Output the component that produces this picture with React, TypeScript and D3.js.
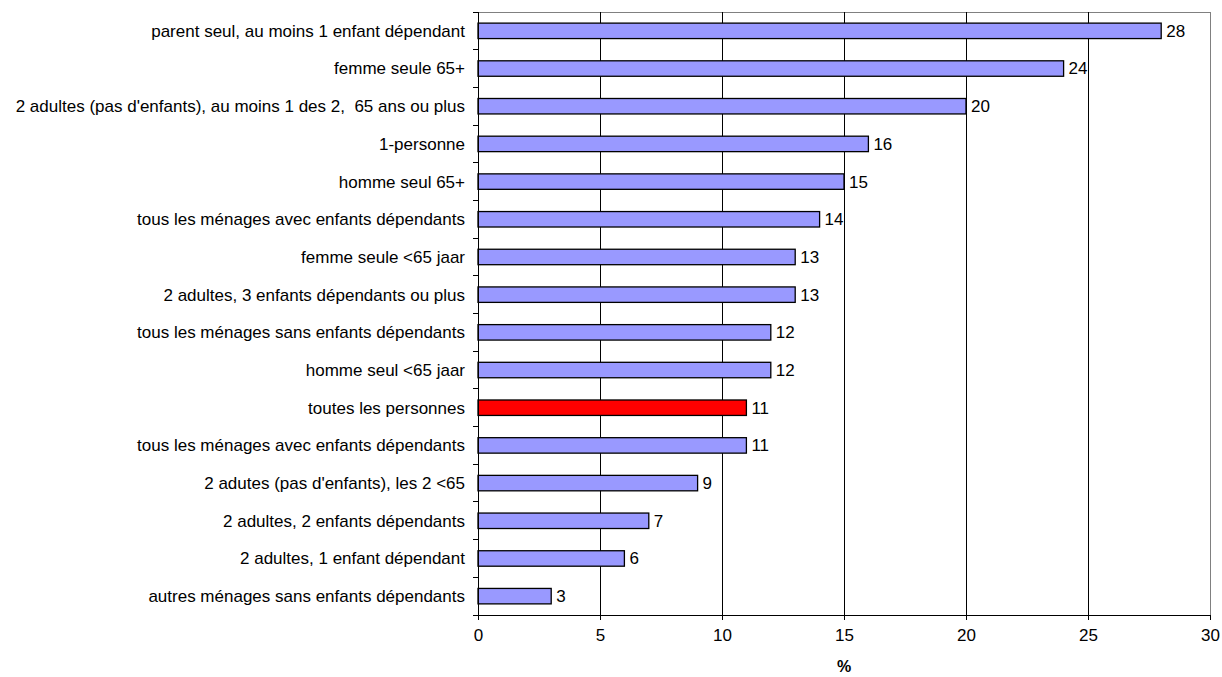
import { axisBottom, scaleBand, scaleLinear, select } from "d3";
import React, { useEffect, useRef } from "react";

const categories = [
  "parent seul, au moins 1 enfant dépendant",
  "femme seule 65+",
  "2 adultes (pas d'enfants), au moins 1 des 2,  65 ans ou plus",
  "1-personne",
  "homme seul 65+",
  "tous les ménages avec enfants dépendants",
  "femme seule <65 jaar",
  "2 adultes, 3 enfants dépendants ou plus",
  "tous les ménages sans enfants dépendants",
  "homme seul <65 jaar",
  "toutes les personnes",
  "tous les ménages avec enfants dépendants ",
  "2 adutes (pas d'enfants), les 2 <65",
  "2 adultes, 2 enfants dépendants",
  "2 adultes, 1 enfant dépendant",
  "autres ménages sans enfants dépendants",
];
const values = [28, 24, 20, 16, 15, 14, 13, 13, 12, 12, 11, 11, 9, 7, 6, 3];
const highlight = "toutes les personnes";
const xTicks = [0, 5, 10, 15, 20, 25, 30];

const width = 1222;
const height = 677;
const margin = { top: 12, right: 12, bottom: 62, left: 478 };
const innerWidth = width - margin.left - margin.right;
const innerHeight = height - margin.top - margin.bottom;
const font = "Arial, 'Liberation Sans', sans-serif";
const fontSize = 17;

const xScale = scaleLinear().domain([0, 30]).range([0, innerWidth]);
const yScale = scaleBand<string>()
  .domain(categories)
  .range([0, innerHeight])
  .paddingInner(0.59)
  .paddingOuter(0.295);

export default function App() {
  const axisRef = useRef<SVGGElement>(null);

  useEffect(() => {
    const g = select(axisRef.current!);
    g.call(
      axisBottom(xScale)
        .tickValues(xTicks)
        .tickSize(5)
        .tickSizeOuter(0)
        .tickPadding(9)
    );
    g.attr("shape-rendering", "crispEdges");
    g.select(".domain").attr("stroke", "black");
    g.selectAll("text")
      .attr("font-family", font)
      .attr("font-size", fontSize)
      .attr("fill", "black");
  }, []);

  const step = innerHeight / categories.length;

  return (
    <svg
      width={width}
      height={height}
      viewBox={`0 0 ${width} ${height}`}
      style={{ position: "absolute", left: 0, top: 0, background: "white" }}
    >
      <g transform={`translate(${margin.left}, ${margin.top})`}>
        {/* plot frame */}
        <g shapeRendering="crispEdges">
          <line x1={0} x2={innerWidth} y1={0} y2={0} stroke="#808080" />
          <line x1={innerWidth} x2={innerWidth} y1={0} y2={innerHeight} stroke="#808080" />
          {xTicks.slice(1, -1).map((t) => (
            <line key={t} x1={xScale(t)} x2={xScale(t)} y1={0} y2={innerHeight} stroke="black" />
          ))}
        </g>
        {values.map((v, i) => {
          const c = categories[i];
          const y = yScale(c)!;
          return (
            <g key={i}>
              <rect
                x={0}
                y={y}
                width={xScale(v)}
                height={yScale.bandwidth()}
                fill={c === highlight ? "#FF0000" : "#9999FF"}
                stroke="black"
                strokeWidth={1.3}
              />
              <text
                x={xScale(v) + 5}
                y={y + yScale.bandwidth() / 2}
                dy="0.35em"
                fontFamily={font}
                fontSize={fontSize}
              >
                {v}
              </text>
              <text
                x={-13}
                y={y + yScale.bandwidth() / 2}
                dy="0.35em"
                textAnchor="end"
                fontFamily={font}
                fontSize={fontSize}
                style={{ whiteSpace: "pre" }}
              >
                {c.trim()}
              </text>
            </g>
          );
        })}
        {/* category axis */}
        <g shapeRendering="crispEdges">
          <line x1={0} x2={0} y1={0} y2={innerHeight} stroke="black" />
          {categories.map((_, i) => (
            <line key={i} x1={-5} x2={0} y1={i * step} y2={i * step} stroke="black" />
          ))}
          <line x1={-5} x2={0} y1={innerHeight} y2={innerHeight} stroke="black" />
        </g>
        <g ref={axisRef} transform={`translate(0, ${innerHeight})`} />
        <text
          x={innerWidth / 2}
          y={innerHeight + 57}
          textAnchor="middle"
          fontFamily={font}
          fontSize={16}
          fontWeight="bold"
        >
          %
        </text>
      </g>
    </svg>
  );
}
